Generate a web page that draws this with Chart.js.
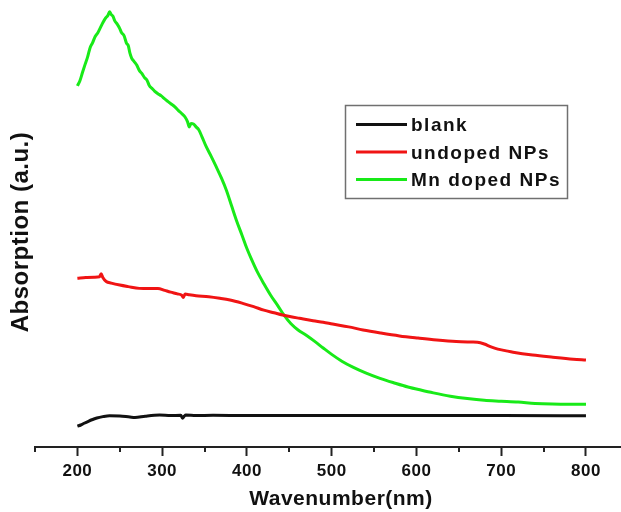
<!DOCTYPE html>
<html lang="en">
<head>
<meta charset="UTF-8">
<title>Absorption spectra</title>
<script src="https://cdn.jsdelivr.net/npm/chart.js@4.4.1/dist/chart.umd.min.js"></script>
<style>
  html, body { margin: 0; padding: 0; background: #fff; overflow: hidden; }
  #spectra { display: block; }
</style>
</head>
<body>
<canvas id="spectra" width="647" height="512"></canvas>
<script>
// wavelength (nm) / absorption (a.u.) for each sample
const blankNm  = [200, 204, 208, 213, 218, 223, 230, 238, 250, 262, 268, 280, 297, 310, 322, 324, 326, 328, 340, 360, 400, 500, 600, 700, 800];
const blankAbs = [0.095, 0.100, 0.108, 0.117, 0.125, 0.132, 0.138, 0.142, 0.141, 0.136, 0.134, 0.140, 0.145, 0.143, 0.144, 0.131, 0.140, 0.145, 0.143, 0.144, 0.143, 0.143, 0.143, 0.143, 0.142];

const undopedNm  = [200, 210, 220, 226, 228, 230, 234, 240, 250, 260, 273, 285, 295, 303, 310, 318, 323, 325, 327, 332, 340, 355, 368, 380, 395, 408, 420, 432, 442, 452, 462, 478, 490, 501, 520, 537, 558, 580, 602, 624, 647, 665, 672, 680, 688, 696, 706, 714, 737, 761, 785, 800];
const undopedAbs = [0.767, 0.770, 0.772, 0.774, 0.788, 0.770, 0.752, 0.745, 0.736, 0.729, 0.721, 0.720, 0.721, 0.712, 0.704, 0.696, 0.690, 0.680, 0.695, 0.692, 0.688, 0.683, 0.676, 0.668, 0.653, 0.638, 0.622, 0.610, 0.600, 0.592, 0.585, 0.574, 0.567, 0.559, 0.546, 0.532, 0.518, 0.505, 0.495, 0.486, 0.479, 0.477, 0.476, 0.468, 0.455, 0.445, 0.437, 0.431, 0.418, 0.408, 0.399, 0.395];

const mnNm  = [200, 203, 206, 209, 212, 215, 218, 221, 224, 227, 230, 233, 236, 238, 240, 242, 244, 247, 250, 252, 255, 258, 260, 262, 264, 267, 270, 273, 276, 279, 282, 285, 288, 291, 295, 299, 303, 307, 311, 315, 319, 323, 327, 330, 332, 334, 337, 340, 343, 347, 352, 358, 364, 370, 376, 382, 388, 394, 400, 406, 412, 420, 428, 436, 444, 452, 460, 470, 480, 490, 500, 512, 525, 540, 557, 575, 590, 605, 620, 640, 660, 680, 700, 720, 740, 760, 780, 800];
const mnAbs = [1.641, 1.665, 1.702, 1.738, 1.772, 1.815, 1.838, 1.866, 1.882, 1.905, 1.928, 1.948, 1.962, 1.978, 1.965, 1.958, 1.938, 1.922, 1.902, 1.884, 1.870, 1.835, 1.825, 1.790, 1.768, 1.752, 1.736, 1.712, 1.698, 1.680, 1.668, 1.642, 1.630, 1.618, 1.606, 1.596, 1.582, 1.570, 1.558, 1.546, 1.530, 1.516, 1.500, 1.478, 1.455, 1.470, 1.468, 1.455, 1.443, 1.410, 1.365, 1.320, 1.272, 1.222, 1.165, 1.095, 1.026, 0.965, 0.902, 0.848, 0.798, 0.742, 0.690, 0.645, 0.598, 0.560, 0.533, 0.508, 0.480, 0.450, 0.421, 0.390, 0.363, 0.337, 0.312, 0.290, 0.273, 0.259, 0.246, 0.231, 0.220, 0.212, 0.208, 0.204, 0.198, 0.195, 0.194, 0.194];

const xMajorTicks = [200, 300, 400, 500, 600, 700, 800];
const xMinorTicks = [150, 250, 350, 450, 550, 650, 750, 850];

const FONT = '"Liberation Sans", Arial, Helvetica, sans-serif';
const INK = '#111';

const pairs = (xs, ys) => xs.map((x, i) => ({ x: x, y: ys[i] }));

// short unlabeled ticks halfway between the labeled ones
const minorTicks = {
    id: 'minorTicks',
    afterDraw(chart) {
        const { ctx, chartArea } = chart;
        const x = chart.scales.x;
        ctx.save();
        ctx.strokeStyle = '#222';
        ctx.lineWidth = 2;
        xMinorTicks.forEach(v => {
            const px = Math.round(x.getPixelForValue(v));
            ctx.beginPath();
            ctx.moveTo(px, chartArea.bottom);
            ctx.lineTo(px, chartArea.bottom + 5);
            ctx.stroke();
        });
        ctx.restore();
    }
};

// a little tracking on the axis text
const spacing = {
    id: 'spacing',
    beforeDraw(chart) {
        chart.ctx.letterSpacing = '0.5px';
    }
};

// framed legend in the upper right of the plot
const boxLegend = {
    id: 'boxLegend',
    afterDraw(chart) {
        const ctx = chart.ctx;
        ctx.save();
        ctx.strokeStyle = '#707070';
        ctx.lineWidth = 1.5;
        ctx.strokeRect(345.5, 105.5, 222, 93);
        ctx.font = 'bold 19px ' + FONT;
        ctx.letterSpacing = '1.5px';
        ctx.textBaseline = 'middle';
        ctx.fillStyle = INK;
        chart.data.datasets.forEach((ds, i) => {
            const y = 124.5 + i * 27.5;
            ctx.strokeStyle = ds.borderColor;
            ctx.lineWidth = 3;
            ctx.beginPath();
            ctx.moveTo(356, y);
            ctx.lineTo(407, y);
            ctx.stroke();
            ctx.fillText(ds.label, 411, y + 1.5);
        });
        ctx.restore();
    }
};

const line = (label, color, data) => ({
    label: label,
    data: data,
    borderColor: color,
    borderWidth: 3,
    pointRadius: 0,
    cubicInterpolationMode: 'monotone',
    fill: false,
    clip: false,
});

new Chart(document.getElementById('spectra'), {
    type: 'line',
    data: {
        datasets: [
            line('blank', '#111111', pairs(blankNm, blankAbs)),
            line('undoped NPs', '#f01414', pairs(undopedNm, undopedAbs)),
            line('Mn doped NPs', '#18ea18', pairs(mnNm, mnAbs)),
        ]
    },
    options: {
        responsive: false,
        animation: false,
        layout: { padding: { top: 17, left: 0, right: 0, bottom: 0 } },
        plugins: {
            legend: { display: false },
            tooltip: { enabled: false },
        },
        scales: {
            x: {
                type: 'linear',
                min: 150,
                max: 872,
                afterBuildTicks: axis => { axis.ticks = xMajorTicks.map(v => ({ value: v })); },
                afterFit: axis => { axis.height = 65; axis.paddingLeft = 0; axis.paddingRight = 0; },
                grid: { drawOnChartArea: false, drawTicks: true, tickLength: 9, tickWidth: 2, tickColor: '#222' },
                border: { display: true, color: '#222', width: 2 },
                ticks: { padding: 5, color: INK, maxRotation: 0, font: { family: FONT, size: 17, weight: 'bold' } },
                title: {
                    display: true,
                    text: 'Wavenumber(nm)',
                    color: INK,
                    font: { family: FONT, size: 21, weight: 'bold' },
                    padding: { top: 0, bottom: 0 },
                },
            },
            y: {
                min: 0,
                max: 1.9545,
                afterFit: axis => { axis.width = 35; },
                grid: { display: false },
                border: { display: false },
                ticks: { display: false },
                title: {
                    display: true,
                    text: 'Absorption (a.u.)',
                    color: INK,
                    font: { family: FONT, size: 24, weight: 'bold' },
                    padding: { top: 7, bottom: 0 },
                },
            },
        },
    },
    plugins: [spacing, minorTicks, boxLegend],
});
</script>
</body>
</html>
